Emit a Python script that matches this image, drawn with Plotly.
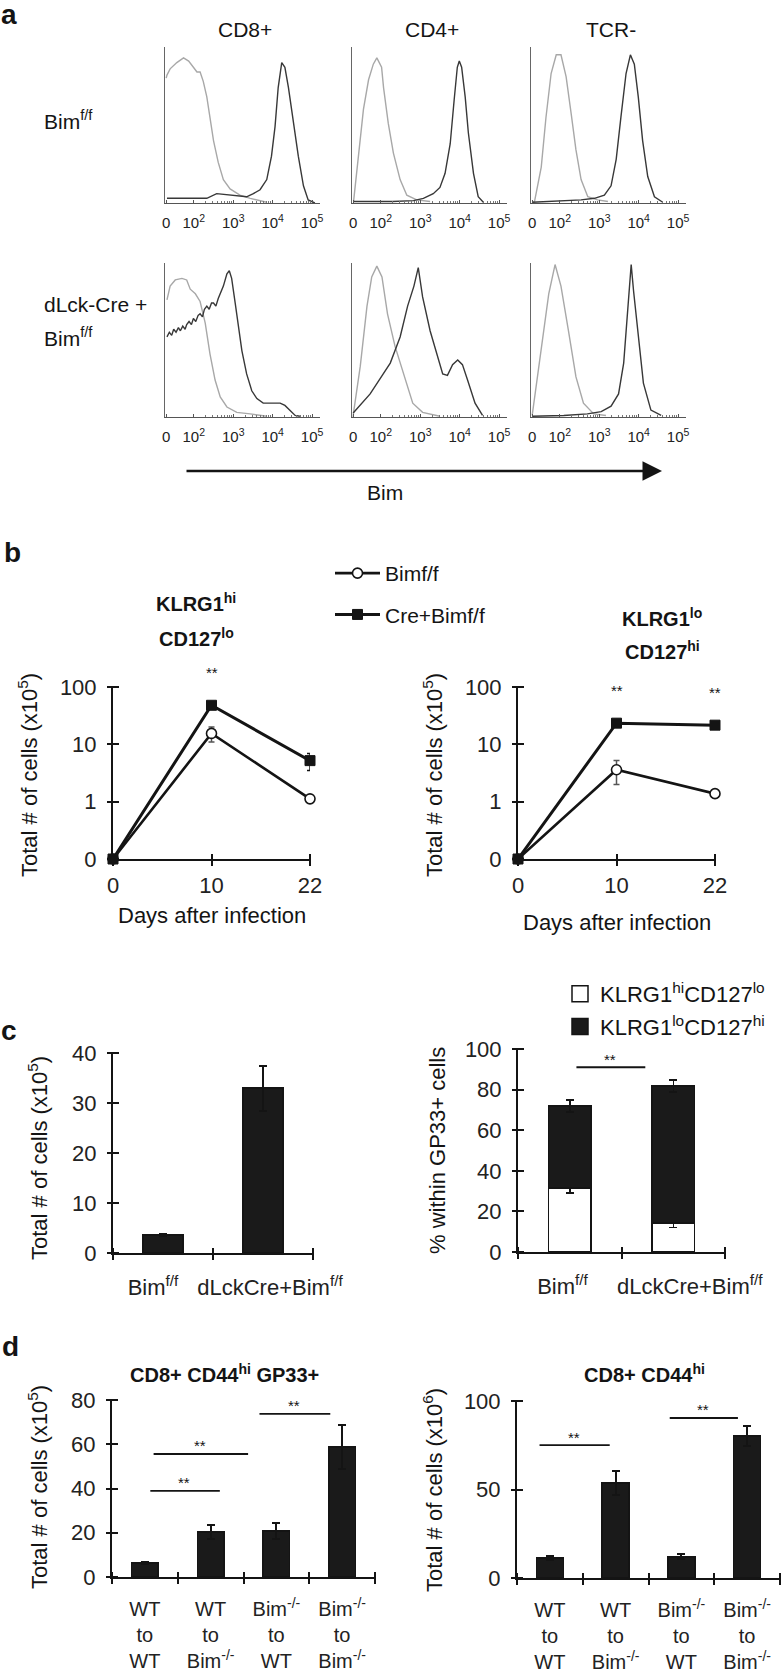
import math
import plotly.graph_objects as go

W, H = 783, 1676
FONT = "Liberation Sans, Arial, Helvetica, sans-serif"
INK = "#141414"


def fx(p):
    return p / W


def fy(p):
    return 1 - p / H


# ===================== DATA =====================
# ---- Panel a: Bim flow histograms ----
# x: display position on the biexponential axis (0 -> "0", 0.7 -> 10^2, 1.7 -> 10^3, 2.7 -> 10^4, 3.7 -> 10^5)
# y: % of mode
hist_tick_pos = [0, 0.7, 1.7, 2.7, 3.7]
hist_tick_text = ["0", "10<sup>2</sup>", "10<sup>3</sup>", "10<sup>4</sup>", "10<sup>5</sup>"]
hist_cols = ["CD8+", "CD4+", "TCR-"]

# row 1: Bim f/f
r1_cd8_ctrl_x = [0.0, 0.02, 0.10, 0.27, 0.44, 0.57, 0.69, 0.78, 0.86, 0.94, 1.03, 1.11, 1.20, 1.32, 1.45, 1.62, 1.87, 2.13, 2.38, 2.55]
r1_cd8_ctrl_y = [80, 82, 86, 90, 93, 91, 87, 84, 84, 78, 68, 55, 40, 26, 15, 9, 5, 3, 1.5, 0.5]
r1_cd8_bim_x = [0.02, 0.52, 1.03, 1.28, 1.70, 2.04, 2.21, 2.38, 2.55, 2.67, 2.76, 2.84, 2.93, 3.01, 3.10, 3.22, 3.35, 3.48, 3.60, 3.77]
r1_cd8_bim_y = [3, 3, 3, 6, 5, 4, 6, 8.5, 15, 30, 49, 74, 90, 87, 74, 53, 30, 11, 2, 0]

r1_cd4_ctrl_x = [0.01, 0.13, 0.26, 0.39, 0.51, 0.60, 0.72, 0.77, 0.89, 1.02, 1.19, 1.36, 1.61, 1.95]
r1_cd4_ctrl_y = [1, 28, 60, 79, 89, 93, 87, 74, 51, 32, 15, 5, 2, 1]
r1_cd4_bim_x = [0.01, 0.5, 1.0, 1.53, 1.78, 2.03, 2.20, 2.33, 2.46, 2.56, 2.64, 2.69, 2.75, 2.84, 2.92, 3.05, 3.17, 3.30]
r1_cd4_bim_y = [1, 1, 1, 1.5, 3, 6, 10, 19, 38, 66, 87, 91, 87, 68, 45, 19, 4, 0.5]

r1_tcr_ctrl_x = [0.0, 0.06, 0.23, 0.35, 0.48, 0.61, 0.73, 0.86, 0.99, 1.11, 1.24, 1.41, 1.66, 1.92]
r1_tcr_ctrl_y = [0, 1, 23, 55, 83, 95, 95, 81, 57, 34, 15, 4, 2, 1]
r1_tcr_bim_x = [0.0, 0.6, 1.24, 1.58, 1.83, 2.0, 2.13, 2.25, 2.38, 2.49, 2.59, 2.69, 2.80, 2.93, 3.10, 3.31]
r1_tcr_bim_y = [0.5, 1, 2, 3, 5, 11, 28, 55, 83, 95, 89, 68, 40, 17, 4, 0.5]

# row 2: dLck-Cre + Bim f/f
r2_cd8_ctrl_x = [0.02, 0.10, 0.23, 0.40, 0.52, 0.61, 0.74, 0.86, 0.99, 1.11, 1.24, 1.37, 1.54, 1.79, 2.13, 2.55]
r2_cd8_ctrl_y = [76, 85, 89, 90, 89, 83, 80, 75, 61, 41, 24, 13, 6.5, 3, 2, 0.5]
r2_cd8_bim_x = [0.02, 0.08, 0.14, 0.19, 0.25, 0.31, 0.36, 0.42, 0.48, 0.52, 0.58, 0.64, 0.69, 0.75, 0.81,
                0.86, 0.92, 0.97, 1.03, 1.09, 1.15, 1.20, 1.26, 1.32, 1.45, 1.54, 1.60, 1.66, 1.75, 1.83,
                1.92, 2.04, 2.17, 2.30, 2.46, 2.67, 2.89, 3.01, 3.14, 3.27, 3.39]
r2_cd8_bim_y = [52, 55, 53, 57, 55, 58, 56, 59, 57, 60, 62, 60, 64, 62, 66,
                67, 65, 70, 72, 70, 74, 74, 72, 77, 85, 93, 95, 90, 74, 59,
                43, 28, 17, 12, 9, 9, 9, 7.5, 4, 1, 0.5]

r2_cd4_ctrl_x = [0.0, 0.01, 0.18, 0.35, 0.47, 0.60, 0.73, 0.87, 1.06, 1.32, 1.51, 1.76, 2.2]
r2_cd4_ctrl_y = [0, 3, 33, 72, 91, 98, 91, 67, 46, 24, 9, 3, 0.5]
r2_cd4_bim_x = [0.0, 0.43, 0.94, 1.19, 1.38, 1.54, 1.65, 1.76, 1.95, 2.14, 2.27, 2.39, 2.52, 2.65, 2.77, 2.90, 3.09, 3.28]
r2_cd4_bim_y = [2.6, 15, 35, 52, 72, 85, 97, 78, 56, 39, 28, 27, 34, 37, 34, 24, 9, 1]

r2_tcr_ctrl_x = [0.0, 0.23, 0.42, 0.58, 0.73, 0.92, 1.11, 1.30, 1.56, 1.87]
r2_tcr_ctrl_y = [1, 46, 80, 99, 85, 56, 26, 9, 2, 1]
r2_tcr_bim_x = [0.0, 0.8, 1.4, 1.75, 2.0, 2.19, 2.32, 2.41, 2.48, 2.51, 2.57, 2.70, 2.82, 3.01, 3.27]
r2_tcr_bim_y = [0.5, 1, 2, 3.5, 7, 15, 35, 63, 85, 99, 82, 50, 22, 4.5, 1]

hist_data = [
    [(r1_cd8_ctrl_x, r1_cd8_ctrl_y, r1_cd8_bim_x, r1_cd8_bim_y),
     (r1_cd4_ctrl_x, r1_cd4_ctrl_y, r1_cd4_bim_x, r1_cd4_bim_y),
     (r1_tcr_ctrl_x, r1_tcr_ctrl_y, r1_tcr_bim_x, r1_tcr_bim_y)],
    [(r2_cd8_ctrl_x, r2_cd8_ctrl_y, r2_cd8_bim_x, r2_cd8_bim_y),
     (r2_cd4_ctrl_x, r2_cd4_ctrl_y, r2_cd4_bim_x, r2_cd4_bim_y),
     (r2_tcr_ctrl_x, r2_tcr_ctrl_y, r2_tcr_bim_x, r2_tcr_bim_y)],
]

# ---- Panel b: kinetics (x10^5 cells) ----
b_days = ["0", "10", "22"]
b_hi_wt = [0, 15.5, 1.12]
b_hi_wt_err = [0, 4.5, 0.1]
b_hi_cre = [0, 48.0, 5.2]
b_hi_cre_err = [0, 4.0, 1.7]
b_hi_sig = ["", "**", ""]
b_lo_wt = [0, 3.6, 1.38]
b_lo_wt_err = [0, 1.6, 0.1]
b_lo_cre = [0, 23.4, 21.6]
b_lo_cre_err = [0, 1.5, 1.5]
b_lo_sig = ["", "**", "**"]
b_y_ticks = [0, 1, 10, 100]
LOG_ZERO = 0.1  # where "0" sits on the log axis

# ---- Panel c ----
c_groups = ["Bim<sup>f/f</sup>", "dLckCre+Bim<sup>f/f</sup>"]
c_total = [3.6, 33.0]
c_total_err = [0.2, 4.5]
c_total_sig_x0 = [0.30]
c_total_sig_x1 = [1.32]
c_total_sig_y = [42.0]
c_hi_lo = [31.5, 14.3]
c_hi_lo_err = [2.5, 2.3]
c_lo_hi = [40.5, 67.4]
c_lo_hi_err = [3.0, 3.0]
c_pct_sig_x0 = [0.55]
c_pct_sig_x1 = [1.23]
c_pct_sig_y = [91.0]

# ---- Panel d ----
d_groups = ["WT<br>to<br>WT", "WT<br>to<br>Bim<sup>-/-</sup>",
            "Bim<sup>-/-</sup><br>to<br>WT", "Bim<sup>-/-</sup><br>to<br>Bim<sup>-/-</sup>"]
d_gp33 = [6.3, 20.3, 20.8, 58.8]
d_gp33_err = [0.3, 3.2, 3.6, 10.0]
d_gp33_sig_x0 = [0.56, 0.61, 2.22]
d_gp33_sig_x1 = [1.64, 2.07, 3.32]
d_gp33_sig_y = [38.9, 55.6, 73.7]
d_cd44 = [11.3, 53.7, 11.9, 80.2]
d_cd44_err = [1.2, 6.7, 1.4, 5.7]
d_cd44_sig_x0 = [0.32, 2.30]
d_cd44_sig_x1 = [1.41, 3.36]
d_cd44_sig_y = [75.1, 90.4]

# ===================== FIGURE =====================
traces = []
annotations = []
layout = dict(
    width=W, height=H, margin=dict(l=0, r=0, t=0, b=0, pad=0, autoexpand=False),
    paper_bgcolor="white", plot_bgcolor="rgba(0,0,0,0)",
    font=dict(family=FONT, color=INK, size=22),
    barmode="stack", showlegend=True, hovermode=False,
)

_ax = [0]


def new_id():
    _ax[0] += 1
    return _ax[0]


def ann(text, x, y, size=22, bold=False, xanchor="center", yanchor="middle", angle=0, color=INK):
    annotations.append(dict(
        text=f"<b>{text}</b>" if bold else text, x=fx(x), y=fy(y), xref="paper", yref="paper",
        xanchor=xanchor, yanchor=yanchor, showarrow=False, textangle=angle,
        font=dict(size=size, family=FONT, color=color)))


# ---------- Panel a ----------
hist_x_px = [(165, 320), (352, 507), (531, 686)]
hist_y_px = [(47, 203), (263, 417)]
minor_vals = [hist_tick_pos[i] + math.log10(m) for i in range(1, 4) for m in range(2, 10)]

for r, (yt, yb) in enumerate(hist_y_px):
    for c, (xl, xr) in enumerate(hist_x_px):
        k = new_id()
        cx, cy, bx, by = hist_data[r][c]
        layout[f"xaxis{k}"] = dict(
            domain=[fx(xl), fx(xr)], range=[-0.03, 3.9], anchor=f"y{k}",
            showline=True, linecolor="#555", linewidth=1.3,
            tickmode="array", tickvals=hist_tick_pos, ticktext=hist_tick_text,
            ticks="inside", ticklen=3, tickcolor="#555", tickwidth=1, tickangle=0,
            minor=dict(tickmode="array", tickvals=minor_vals, ticks="inside", ticklen=2, tickcolor="#777"),
            tickfont=dict(size=15, color="#222"), ticklabelstandoff=6,
            showgrid=False, zeroline=False)
        layout[f"yaxis{k}"] = dict(
            domain=[fy(yb), fy(yt)], range=[0, 100], anchor=f"x{k}",
            showline=True, linecolor="#666", linewidth=1.2, ticks="", showticklabels=False,
            showgrid=False, zeroline=False)
        traces.append(go.Scatter(x=cx, y=cy, xaxis=f"x{k}", yaxis=f"y{k}", mode="lines",
                                 line=dict(color="#a8a8a8", width=1.4), showlegend=False))
        traces.append(go.Scatter(x=bx, y=by, xaxis=f"x{k}", yaxis=f"y{k}", mode="lines",
                                 line=dict(color="#383838", width=1.4), showlegend=False))

ann("<b>a</b>", 9, 14, size=28)
for (xl, xr), name in zip(hist_x_px, hist_cols):
    ann(name, (xl + xr) / 2 + 2, 30, size=21)
ann("Bim<sup>f/f</sup>", 42, 120, size=21, xanchor="left")
ann("dLck-Cre +", 42, 305, size=21, xanchor="left")
ann("Bim<sup>f/f</sup>", 42, 337, size=21, xanchor="left")
annotations.append(dict(x=fx(662), y=fy(471), xref="paper", yref="paper", text="",
                        showarrow=True, ax=-477, ay=0, axref="pixel", ayref="pixel",
                        arrowhead=2, arrowsize=1.5, arrowwidth=2.6, arrowcolor=INK))
ann("Bim", 385, 492, size=21)


# ---------- generic Prism-style panel ----------
def prism_panel(xl, xr, yt, yb, xrange, x_lab_vals, x_lab_text, x_cross, yrange, y_vals, y_text,
                ylog=False, x_standoff=10, y_standoff=10, x_font=22):
    k = new_id()
    kx = new_id()
    ky = new_id()
    ytype = "log" if ylog else "linear"
    layout[f"xaxis{k}"] = dict(
        domain=[fx(xl), fx(xr)], range=xrange, anchor=f"y{k}",
        showline=True, linewidth=2, linecolor=INK,
        tickmode="array", tickvals=x_lab_vals, ticktext=x_lab_text, ticks="", tickangle=0,
        ticklabelstandoff=x_standoff, tickfont=dict(size=x_font, color="#222"),
        showgrid=False, zeroline=False)
    layout[f"yaxis{k}"] = dict(
        domain=[fy(yb), fy(yt)], range=yrange, type=ytype, anchor=f"x{k}",
        showline=True, linewidth=2, linecolor=INK,
        tickmode="array", tickvals=y_vals, ticktext=y_text, ticks="",
        ticklabelstandoff=y_standoff, tickfont=dict(size=22, color="#222"),
        showgrid=False, zeroline=False)
    layout[f"xaxis{kx}"] = dict(
        overlaying=f"x{k}", anchor="free", position=fy(yb - 6), range=xrange,
        tickmode="array", tickvals=x_cross, ticks="outside", ticklen=12, tickwidth=2, tickcolor=INK,
        showticklabels=False, showline=False, showgrid=False, zeroline=False)
    layout[f"yaxis{ky}"] = dict(
        overlaying=f"y{k}", anchor="free", position=fx(xl + 6), side="left",
        range=yrange, type=ytype,
        tickmode="array", tickvals=y_vals, ticks="outside", ticklen=12, tickwidth=2, tickcolor=INK,
        showticklabels=False, showline=False, showgrid=False, zeroline=False)
    traces.append(go.Scatter(x=[None], y=[None], xaxis=f"x{kx}", yaxis=f"y{k}", showlegend=False))
    traces.append(go.Scatter(x=[None], y=[None], xaxis=f"x{k}", yaxis=f"y{ky}", showlegend=False))
    return f"x{k}", f"y{k}"


def sig_lines(xa, ya, x0s, x1s, ys):
    for x0, x1, y in zip(x0s, x1s, ys):
        annotations.append(dict(x=x1, y=y, ax=x0, ay=y, xref=xa, yref=ya, axref=xa, ayref=ya,
                                text="", showarrow=True, arrowhead=0, arrowwidth=1.8, arrowcolor=INK))
        annotations.append(dict(x=(x0 + x1) / 2, y=y, xref=xa, yref=ya, text="**", showarrow=False,
                                yanchor="middle", yshift=8, font=dict(size=15, color=INK, family=FONT)))


# ---------- Panel b ----------
ann("<b>b</b>", 12, 553, size=28)
b_pos = list(range(len(b_days)))
b_plot = lambda vals: [v if v > 0 else LOG_ZERO for v in vals]
b_yt = [t if t > 0 else LOG_ZERO for t in b_y_ticks]
b_panels = [
    (113, 310, b_hi_wt, b_hi_wt_err, b_hi_cre, b_hi_cre_err, b_hi_sig, True),
    (518, 715, b_lo_wt, b_lo_wt_err, b_lo_cre, b_lo_cre_err, b_lo_sig, False),
]
for xl, xr, wt, wte, cre, cree, sig, show in b_panels:
    xa, ya = prism_panel(xl, xr, 687, 859, [0, len(b_days) - 1], b_pos, b_days, b_pos,
                         [-1, 2], b_yt, [str(t) for t in b_y_ticks], ylog=True,
                         x_standoff=6, y_standoff=10)
    traces.append(go.Scatter(
        x=b_pos, y=b_plot(wt), xaxis=xa, yaxis=ya, mode="lines+markers", name="Bimf/f",
        legendgroup="wt", showlegend=show, cliponaxis=False,
        line=dict(color=INK, width=2.6),
        marker=dict(symbol="circle", size=10, color="white", line=dict(color=INK, width=1.6)),
        error_y=dict(type="data", array=wte, color="#555", thickness=1.5, width=3)))
    traces.append(go.Scatter(
        x=b_pos, y=b_plot(cre), xaxis=xa, yaxis=ya, mode="lines+markers", name="Cre+Bimf/f",
        legendgroup="cre", showlegend=show, cliponaxis=False,
        line=dict(color=INK, width=3),
        marker=dict(symbol="square", size=10, color=INK, line=dict(color=INK, width=1)),
        error_y=dict(type="data", array=cree, color=INK, thickness=1.5, width=3)))
    for i, s in enumerate(sig):
        if s:
            annotations.append(dict(x=b_pos[i], y=math.log10(max(wt[i], cre[i])), xref=xa, yref=ya,
                                    text=s, showarrow=False, yshift=33,
                                    font=dict(size=15, color=INK, family=FONT)))
    ann("Total # of cells (x10<sup>5</sup>)", xl - 85, 775, size=22, angle=-90)
    ann("Days after infection", (xl + xr) / 2, 915 if show else 922, size=22)

ann("KLRG1<sup>hi</sup>", 196, 602, size=20, bold=True)
ann("CD127<sup>lo</sup>", 196, 637, size=20, bold=True)
ann("KLRG1<sup>lo</sup>", 662, 617, size=20, bold=True)
ann("CD127<sup>hi</sup>", 662, 650, size=20, bold=True)

layout["legend"] = dict(x=fx(330), y=fy(553), xanchor="left", yanchor="top",
                        bgcolor="rgba(0,0,0,0)", font=dict(size=21, family=FONT, color=INK),
                        tracegroupgap=11, itemwidth=45, itemclick=False)

# ---------- Panel c ----------
ann("<b>c</b>", 9, 1030, size=28)
c_pos = [i + 0.5 for i in range(len(c_groups))]
c_bounds = list(range(len(c_groups) + 1))
c_left_label_pos = [0.40, 1.57]   # label anchor positions (as drawn in the original)
c_right_label_pos = [0.43, 1.66]
xa, ya = prism_panel(113, 313, 1053, 1253, [0, len(c_groups)], c_left_label_pos, c_groups, c_bounds,
                     [0, 40], [0, 10, 20, 30, 40], ["0", "10", "20", "30", "40"],
                     x_standoff=14, y_standoff=10)
traces.append(go.Bar(x=c_pos, y=c_total, width=0.4, xaxis=xa, yaxis=ya, showlegend=False,
                     marker=dict(color="#1a1a1a", line=dict(color=INK, width=1.5)),
                     error_y=dict(type="data", array=c_total_err, color=INK, thickness=2, width=4)))
sig_lines(xa, ya, c_total_sig_x0, c_total_sig_x1, c_total_sig_y)
ann("Total # of cells (x10<sup>5</sup>)", 38, 1158, size=22, angle=-90)

xa, ya = prism_panel(518, 725, 1049, 1252, [0, len(c_groups)], c_right_label_pos, c_groups, c_bounds,
                     [0, 100], [0, 20, 40, 60, 80, 100], ["0", "20", "40", "60", "80", "100"],
                     x_standoff=14, y_standoff=10)
traces.append(go.Bar(x=c_pos, y=c_hi_lo, width=0.41, xaxis=xa, yaxis=ya, showlegend=False,
                     marker=dict(color="white", line=dict(color=INK, width=1.5)),
                     error_y=dict(type="data", array=c_hi_lo_err, color=INK, thickness=1.5, width=4)))
traces.append(go.Bar(x=c_pos, y=c_lo_hi, width=0.41, xaxis=xa, yaxis=ya, showlegend=False,
                     marker=dict(color="#1a1a1a", line=dict(color=INK, width=1.5)),
                     error_y=dict(type="data", array=c_lo_hi_err, color=INK, thickness=1.5, width=4)))
traces.append(go.Scatter(x=[None], y=[None], xaxis=xa, yaxis=ya, mode="markers",
                         name="KLRG1<sup>hi</sup>CD127<sup>lo</sup>", legend="legend2", legendgroup="hl",
                         marker=dict(symbol="square", size=16, color="white", line=dict(color=INK, width=1.5))))
traces.append(go.Scatter(x=[None], y=[None], xaxis=xa, yaxis=ya, mode="markers",
                         name="KLRG1<sup>lo</sup>CD127<sup>hi</sup>", legend="legend2", legendgroup="lh",
                         marker=dict(symbol="square", size=16, color="#1a1a1a", line=dict(color=INK, width=1.5))))
sig_lines(xa, ya, c_pct_sig_x0, c_pct_sig_x1, c_pct_sig_y)
ann("% within GP33+ cells", 437, 1151, size=22, angle=-90)
layout["legend2"] = dict(x=fx(560), y=fy(973), xanchor="left", yanchor="top",
                         bgcolor="rgba(0,0,0,0)", font=dict(size=22, family=FONT, color=INK),
                         tracegroupgap=1, itemclick=False)

# ---------- Panel d ----------
ann("<b>d</b>", 10, 1346, size=28)
d_pos = [i + 0.5 for i in range(len(d_groups))]
d_bounds = list(range(len(d_groups) + 1))
xa, ya = prism_panel(112, 375, 1400, 1577, [0, len(d_groups)], d_pos, d_groups, d_bounds,
                     [0, 80], [0, 20, 40, 60, 80], ["0", "20", "40", "60", "80"],
                     x_standoff=13, y_standoff=10, x_font=20)
traces.append(go.Bar(x=d_pos, y=d_gp33, width=0.4, xaxis=xa, yaxis=ya, showlegend=False,
                     marker=dict(color="#1a1a1a", line=dict(color=INK, width=1.5)),
                     error_y=dict(type="data", array=d_gp33_err, color=INK, thickness=2, width=4)))
sig_lines(xa, ya, d_gp33_sig_x0, d_gp33_sig_x1, d_gp33_sig_y)
ann("Total # of cells (x10<sup>5</sup>)", 38, 1487, size=22, angle=-90)
ann("CD8+ CD44<sup>hi</sup> GP33+", 224, 1373, size=20, bold=True)

xa, ya = prism_panel(517, 780, 1401, 1578, [0, len(d_groups)], d_pos, d_groups, d_bounds,
                     [0, 100], [0, 50, 100], ["0", "50", "100"],
                     x_standoff=13, y_standoff=10, x_font=20)
traces.append(go.Bar(x=d_pos, y=d_cd44, width=0.41, xaxis=xa, yaxis=ya, showlegend=False,
                     marker=dict(color="#1a1a1a", line=dict(color=INK, width=1.5)),
                     error_y=dict(type="data", array=d_cd44_err, color=INK, thickness=2, width=4)))
sig_lines(xa, ya, d_cd44_sig_x0, d_cd44_sig_x1, d_cd44_sig_y)
ann("Total # of cells (x10<sup>6</sup>)", 433, 1490, size=22, angle=-90)
ann("CD8+ CD44<sup>hi</sup>", 644, 1373, size=20, bold=True)

layout["annotations"] = annotations
fig = go.Figure(data=traces, layout=layout)
fig.write_html("out.html", config={"displayModeBar": False, "staticPlot": True},
               post_script="document.body.style.margin='0';")
